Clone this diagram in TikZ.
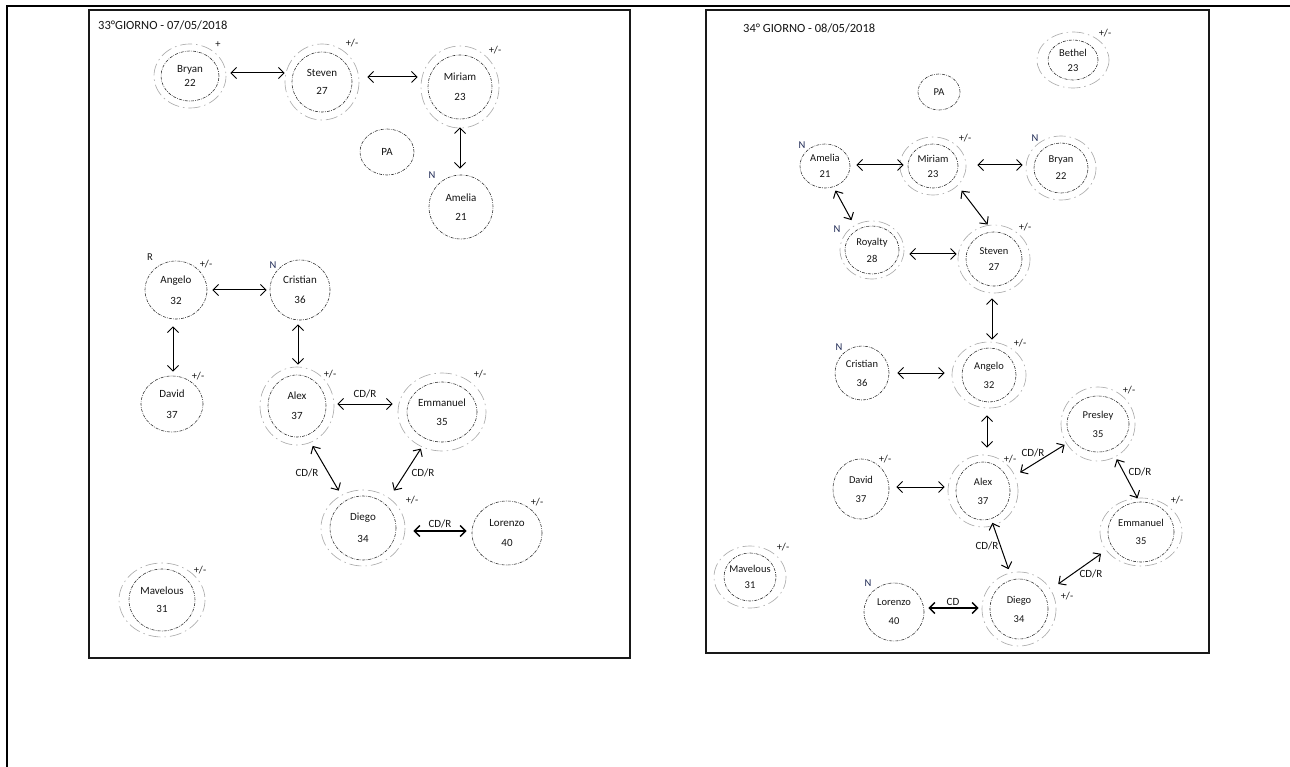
\documentclass[tikz,border=0pt]{standalone}
\usepackage{fontspec}
\setmainfont{Carlito}
\usetikzlibrary{arrows.meta,shapes.geometric}
\definecolor{txt}{HTML}{141414}
\definecolor{navyn}{HTML}{1F2A55}
\newcommand\pn[2]{\makebox[0pt]{#1}\\\makebox[0pt]{#2}}
\newcommand\fsz[2]{\fontsize{#1}{#2}\selectfont}
\begin{document}
\begin{tikzpicture}[x=1pt,y=-1pt,
  pers/.style n args={2}{ellipse, draw=gray!40!black, line width=0.6pt,
    dash pattern=on 3pt off 1.2pt on 0.7pt off 1.2pt, inner sep=0pt,
    minimum width=#1pt, minimum height=#2pt, align=center, text=txt},
  ring/.style={draw=gray!65, line width=0.65pt, dash pattern=on 12pt off 4pt on 1.5pt off 4pt},
  arr/.style={line width=1pt, arrows={Straight Barb[length=5.5pt,width=11pt]-Straight Barb[length=5.5pt,width=11pt]}},
  thk/.style={line width=1.5pt},
  tag/.style={font=\fsz{10.5}{12}, text=txt, inner sep=0pt},
  ntag/.style={font=\fsz{10.5}{12}, text=navyn, inner sep=0pt},
  elab/.style={font=\fsz{11}{13}, text=txt, inner sep=0pt},
  title/.style={font=\fsz{12.5}{14}, text=txt, inner sep=0pt, anchor=west},
  frame/.style={line width=1.7pt, draw=black!90}
]
\useasboundingbox (0,0) rectangle (1290,767);
% outer frame and panels
\draw[line width=2pt] (7,767) -- (7,6) -- (1290,6);
\draw[frame] (89,10) rectangle (630,658);
\draw[frame] (706,10) rectangle (1209,653);

% ================= LEFT PANEL =================
\node[title] (titleL) at (98,25) {33°GIORNO - 07/05/2018};

\node[pers={58}{50}, font=\fsz{11}{14}] (bryanL) at (190,76) {\pn{Bryan}{22}};
\node[pers={60}{60}, font=\fsz{11}{18}] (stevenL) at (322,82) {\pn{Steven}{27}};
\node[pers={64}{64}, font=\fsz{11}{20}] (miriamL) at (460,87) {\pn{Miriam}{23}};
\node[pers={54}{46}, font=\fsz{11}{13}] (paL) at (387,152) {PA};
\node[pers={64}{64}, font=\fsz{11}{19}] (ameliaL) at (461,207) {\pn{Amelia}{21}};
\node[pers={62}{58}, font=\fsz{11}{21}] (angeloL) at (176,290) {\pn{Angelo}{32}};
\node[pers={60}{60}, font=\fsz{11}{20}] (cristianL) at (300,290) {\pn{Cristian}{36}};
\node[pers={62}{56}, font=\fsz{11}{21}] (davidL) at (172,404) {\pn{David}{37}};
\node[pers={58}{62}, font=\fsz{11}{20}] (alexL) at (297,406) {\pn{Alex}{37}};
\node[pers={70}{60}, font=\fsz{11}{19}] (emmL) at (442,412) {\pn{Emmanuel}{35}};
\node[pers={66}{64}, font=\fsz{11}{22}] (diegoL) at (363,528) {\pn{Diego}{34}};
\node[pers={70}{64}, font=\fsz{11}{20}] (lorL) at (507,533) {\pn{Lorenzo}{40}};
\node[pers={66}{62}, font=\fsz{11}{18}] (mavL) at (162,600) {\pn{Mavelous}{31}};

\draw[ring] (bryanL.center) ellipse [x radius=36, y radius=32];
\draw[ring] (stevenL.center) ellipse [x radius=37, y radius=38];
\draw[ring] (miriamL.center) ellipse [x radius=39, y radius=41];
\draw[ring] (alexL.center) ellipse [x radius=37, y radius=39];
\draw[ring] (emmL.center) ellipse [x radius=44, y radius=39];
\draw[ring] (diegoL.center) ellipse [x radius=42, y radius=38];
\draw[ring] (mavL.center) ellipse [x radius=43, y radius=37];

\node[tag] (tbryanL) at (218,45) {+};
\node[tag] (tstevenL) at (352,43) {+/-};
\node[tag] (tmiriamL) at (495,50) {+/-};
\node[ntag] (tameliaL) at (432,175) {N};
\node[tag] (tangeloR) at (150,257) {R};
\node[tag] (tangeloL) at (206,264) {+/-};
\node[ntag] (tcristianL) at (273,265) {N};
\node[tag] (tdavidL) at (198,376) {+/-};
\node[tag] (talexL) at (330,374) {+/-};
\node[tag] (temmL) at (480,374) {+/-};
\node[tag] (tdiegoL) at (412,500) {+/-};
\node[tag] (tlorL) at (537,502) {+/-};
\node[tag] (tmavL) at (200,570) {+/-};

\draw[arr, shorten <=11pt, shorten >=7pt] ([yshift=3pt]bryanL.east) -- ([yshift=3pt]bryanL.east -| stevenL.west);
\draw[arr, shorten <=15pt, shorten >=10pt] ([yshift=5pt]stevenL.east) -- ([yshift=5pt]stevenL.east -| miriamL.west);
\draw[arr, shorten <=8pt, shorten >=6pt] (miriamL.south) -- (miriamL.south |- ameliaL.north);
\draw[arr, shorten <=5pt, shorten >=3pt] (angeloL.east) -- (angeloL.east -| cristianL.west);
\draw[arr, shorten <=7pt, shorten >=4pt] ([xshift=-3pt]angeloL.south) -- ([xshift=-3pt]angeloL.south |- davidL.north);
\draw[arr, shorten <=4pt, shorten >=10pt] ([xshift=-2pt]cristianL.south) -- ([xshift=-2pt]cristianL.south |- alexL.north);
\draw[arr, shorten <=11pt, shorten >=14pt] ([yshift=2pt]alexL.east) -- ([yshift=2pt]alexL.east -| emmL.west);
\draw[arr, shorten <=12pt, shorten >=12pt] (alexL.-72) -- (diegoL.124);
\draw[arr, shorten <=11pt, shorten >=16pt] (emmL.241.6) -- (diegoL.47.5);
\draw[arr, thk, shorten <=17pt, shorten >=5pt] ([yshift=-3pt]diegoL.east) -- ([yshift=-3pt]diegoL.east -| lorL.west);

\node[elab] (eL1) at (365,394) {CD/R};
\node[elab] (eL2) at (307,473) {CD/R};
\node[elab] (eL3) at (423,473) {CD/R};
\node[elab] (eL4) at (440,524) {CD/R};

% ================= RIGHT PANEL =================
\node[title] (titleR) at (743,28) {34° GIORNO - 08/05/2018};

\node[pers={50}{40}, font=\fsz{10.5}{15}] (bethel) at (1073,60) {\pn{Bethel}{23}};
\node[pers={42}{36}, font=\fsz{10.5}{12}] (paR) at (939,92) {PA};
\node[pers={50}{44}, font=\fsz{10.5}{16}] (ameliaR) at (825,166) {\pn{Amelia}{21}};
\node[pers={50}{44}, font=\fsz{10.5}{15}] (miriamR) at (933,166) {\pn{Miriam}{23}};
\node[pers={54}{50}, font=\fsz{10.5}{17}] (bryanR) at (1061,168) {\pn{Bryan}{22}};
\node[pers={54}{48}, font=\fsz{10.5}{17}] (royalty) at (872,250) {\pn{Royalty}{28}};
\node[pers={56}{54}, font=\fsz{10.5}{16}] (stevenR) at (994,259) {\pn{Steven}{27}};
\node[pers={54}{54}, font=\fsz{10.5}{19}] (cristianR) at (862,373) {\pn{Cristian}{36}};
\node[pers={54}{54}, font=\fsz{10.5}{19}] (angeloR) at (989,375) {\pn{Angelo}{32}};
\node[pers={62}{56}, font=\fsz{10.5}{19}] (presley) at (1098,424) {\pn{Presley}{35}};
\node[pers={56}{60}, font=\fsz{10.5}{19}] (davidR) at (861,489) {\pn{David}{37}};
\node[pers={54}{58}, font=\fsz{10.5}{19}] (alexR) at (983,491) {\pn{Alex}{37}};
\node[pers={66}{60}, font=\fsz{10.5}{18}] (emmR) at (1141,532) {\pn{Emmanuel}{35}};
\node[pers={58}{60}, font=\fsz{10.5}{19}] (diegoR) at (1019,609) {\pn{Diego}{34}};
\node[pers={60}{58}, font=\fsz{10.5}{19}] (lorR) at (894,612) {\pn{Lorenzo}{40}};
\node[pers={52}{48}, font=\fsz{10.5}{16}] (mavR) at (750,577) {\pn{Mavelous}{31}};

\draw[ring] (bethel.center) ellipse [x radius=36, y radius=28];
\draw[ring] (miriamR.center) ellipse [x radius=33, y radius=29];
\draw[ring] (bryanR.center) ellipse [x radius=35, y radius=32];
\draw[ring] (royalty.center) ellipse [x radius=32, y radius=29];
\draw[ring] (stevenR.center) ellipse [x radius=36, y radius=34];
\draw[ring] (angeloR.center) ellipse [x radius=37, y radius=33];
\draw[ring] (presley.center) ellipse [x radius=37, y radius=37];
\draw[ring] (alexR.center) ellipse [x radius=35, y radius=36];
\draw[ring] (emmR.center) ellipse [x radius=41, y radius=34];
\draw[ring] (diegoR.center) ellipse [x radius=37, y radius=37];
\draw[ring] (mavR.center) ellipse [x radius=36, y radius=31];

\node[tag] (tbethel) at (1105,33) {+/-};
\node[ntag] (tameliaR) at (802,145) {N};
\node[tag] (tmiriamR) at (965,138) {+/-};
\node[ntag] (tbryanR) at (1035,138) {N};
\node[ntag] (troyalty) at (837,229) {N};
\node[tag] (tstevenR) at (1025,227) {+/-};
\node[ntag] (tcristianR) at (839,347) {N};
\node[tag] (tangeloR2) at (1020,343) {+/-};
\node[tag] (tpresley) at (1129,390) {+/-};
\node[tag] (tdavidR) at (885,459) {+/-};
\node[tag] (talexR) at (1010,459) {+/-};
\node[tag] (temmR) at (1177,500) {+/-};
\node[tag] (tdiegoR) at (1067,596) {+/-};
\node[ntag] (tlorR) at (868,583) {N};
\node[tag] (tmavR) at (783,547) {+/-};

\draw[arr, shorten <=6pt, shorten >=4pt] ([yshift=1pt]ameliaR.east) -- ([yshift=1pt]ameliaR.east -| miriamR.west);
\draw[arr, shorten <=19pt, shorten >=11pt] ([yshift=1pt]miriamR.east) -- ([yshift=1pt]miriamR.east -| bryanR.west);
\draw[arr, shorten <=4pt, shorten >=11pt] (ameliaR.-68) -- (royalty.127);
\draw[arr, shorten <=14pt, shorten >=9pt] (miriamR.-34.5) -- (stevenR.92);
\draw[arr, shorten <=10pt, shorten >=9pt] ([yshift=-4pt]royalty.east) -- ([yshift=-4pt]royalty.east -| stevenR.west);
\draw[arr, shorten <=12pt, shorten >=8pt] ([xshift=-2pt]stevenR.south) -- ([xshift=-2pt]stevenR.south |- angeloR.north);
\draw[arr, shorten <=8pt, shorten >=17pt] (cristianR.east) -- (cristianR.east -| angeloR.west);
\draw[arr, shorten <=13pt, shorten >=14pt] ([xshift=-2pt]angeloR.south) -- ([xshift=-2pt]angeloR.south |- alexR.north);
\draw[arr, shorten <=7pt, shorten >=11pt] ([yshift=2pt]davidR.east) -- ([yshift=2pt]davidR.east -| alexR.west);
\draw[arr, shorten <=14pt, shorten >=9pt] (alexR.24) -- (presley.212.5);
\draw[arr, shorten <=11pt, shorten >=4pt] (presley.-62.8) -- (emmR.93);
\draw[arr, shorten <=13pt, shorten >=17pt] (emmR.206) -- (diegoR.31);
\draw[arr, shorten <=4pt, shorten >=11pt] (alexR.-74) -- (diegoR.103);
\draw[arr, thk, shorten <=4pt, shorten >=11pt] ([yshift=4pt]lorR.east) -- ([yshift=4pt]lorR.east -| diegoR.west);

\node[elab] (eR1) at (1033,453) {CD/R};
\node[elab] (eR2) at (1140,472) {CD/R};
\node[elab] (eR3) at (1091,574) {CD/R};
\node[elab] (eR4) at (987,546) {CD/R};
\node[elab] (eR5) at (953,602) {CD};
\end{tikzpicture}
\end{document}
